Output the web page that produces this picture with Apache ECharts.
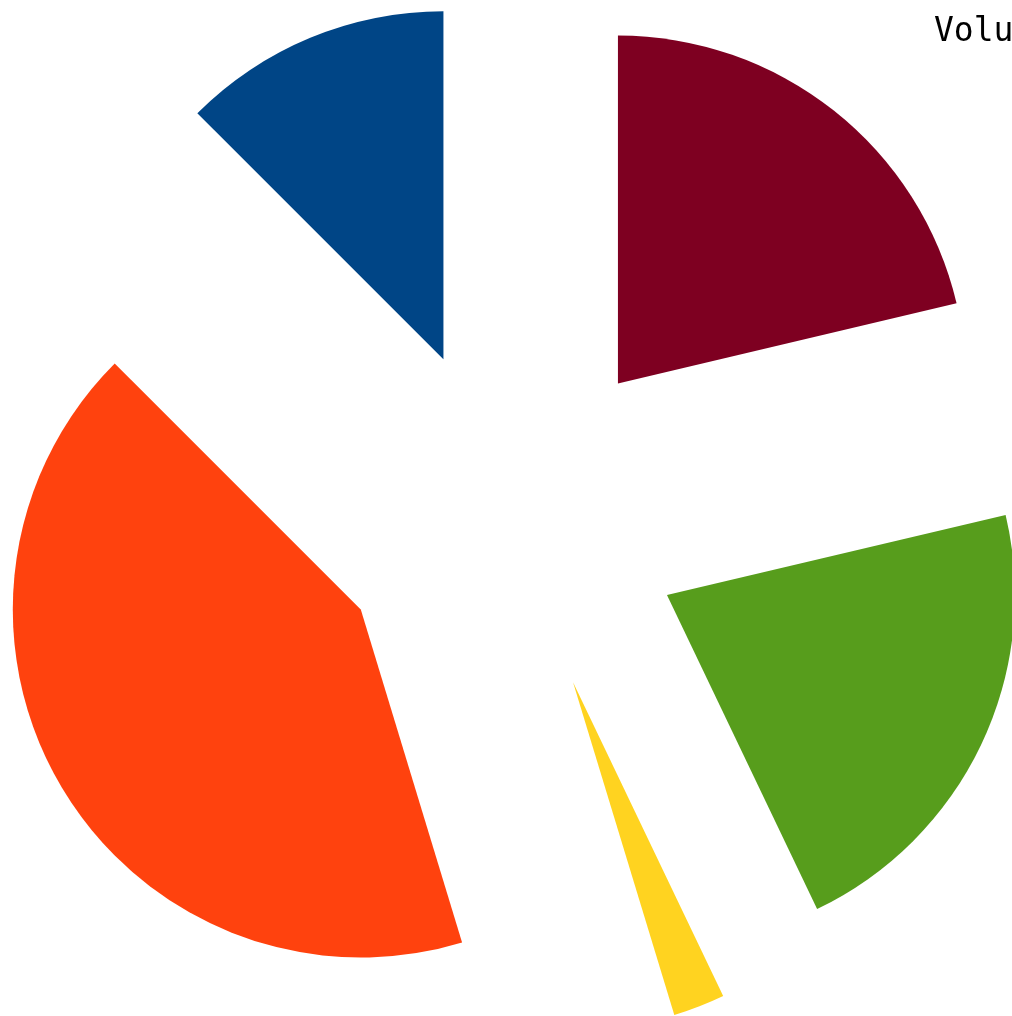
<!DOCTYPE html>
<html>
<head>
<meta charset="utf-8">
<script src="https://cdn.jsdelivr.net/npm/echarts@6/dist/echarts.min.js"></script>
<style>
  html, body { margin: 0; padding: 0; background: #fff; }
  #pie { width: 1012px; height: 1016px; }
</style>
</head>
<body>
<div id="pie"></div>
<script>
// slices, counter-clockwise from 12 o'clock
var names = ['A', 'B', 'C', 'D', 'E'];
var values = [12.5, 42.2, 2.4, 21.6, 21.3];
var colors = ['#004586', '#ff420e', '#ffd320', '#579d1c', '#7e0021'];

var chart = echarts.init(document.getElementById('pie'));

var data = [];
for (var i = 0; i < names.length; i++) {
    data.push({
        name: names[i],
        value: values[i],
        selected: true,
        itemStyle: { color: colors[i] }
    });
}

var option = {
    animation: false,
    title: {
        text: 'Volume',
        left: 934,
        top: 16,
        padding: 0,
        textStyle: {
            fontFamily: 'DejaVu Sans Mono',
            fontSize: 33,
            fontWeight: 'normal',
            color: '#000'
        }
    },
    series: [
        {
            type: 'pie',
            center: [510, 520],
            radius: [0, 348],
            startAngle: 90,
            clockwise: false,
            selectedMode: 'multiple',
            selectedOffset: 174,
            avoidLabelOverlap: false,
            label: { show: false },
            labelLine: { show: false },
            emphasis: { disabled: true },
            itemStyle: { borderWidth: 0 },
            data: data
        }
    ]
};

chart.setOption(option);
</script>
</body>
</html>
